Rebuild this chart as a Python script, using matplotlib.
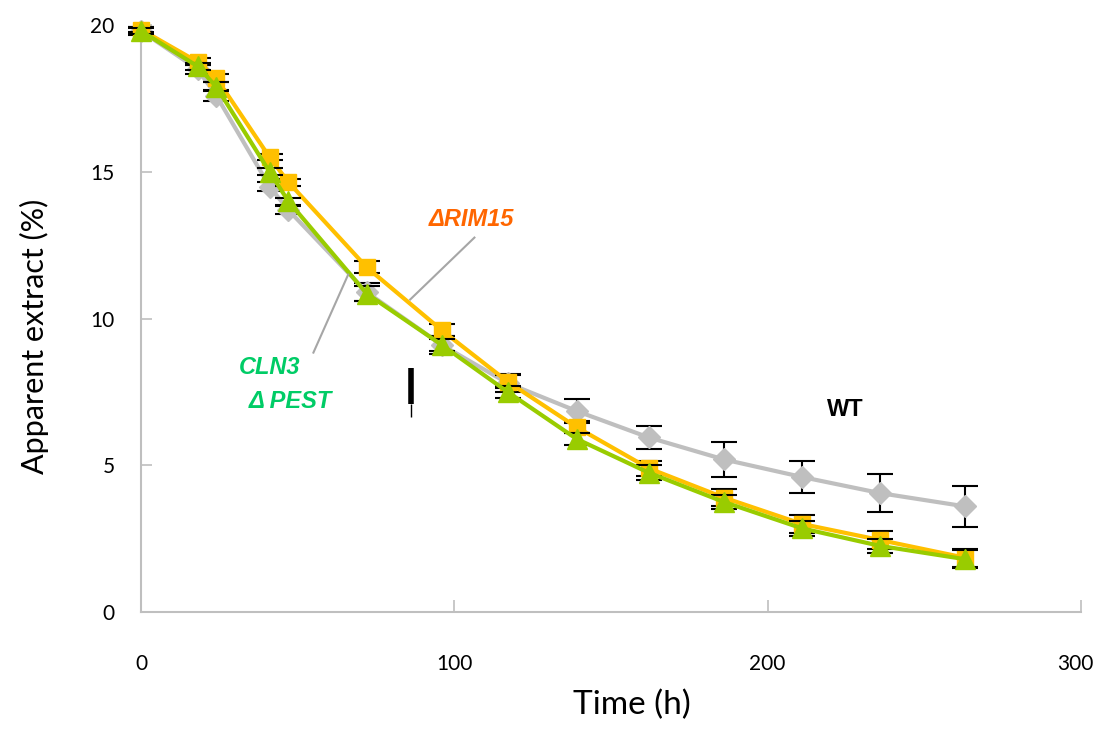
import matplotlib.pyplot as plt
import matplotlib.transforms as mtransforms
import numpy as np

# sampling times (h)
time_h = [0, 18, 24, 41, 47, 72, 96, 117, 139, 162, 186, 211, 236, 263]

# apparent extract (%)
wt = [19.8, 18.5, 17.6, 14.5, 13.7, 10.9, 9.1, 7.8, 6.85, 5.95, 5.2, 4.6, 4.05, 3.6]
wt_err = [0.12, 0.15, 0.2, 0.15, 0.15, 0.3, 0.3, 0.3, 0.4, 0.4, 0.6, 0.55, 0.65, 0.7]

rim15 = [19.85, 18.75, 18.2, 15.5, 14.65, 11.75, 9.6, 7.85, 6.3, 4.9, 3.9, 3.0, 2.45, 1.85]
rim15_err = [0.1, 0.12, 0.15, 0.1, 0.12, 0.2, 0.2, 0.22, 0.2, 0.25, 0.3, 0.3, 0.3, 0.3]

cln3 = [19.8, 18.6, 17.9, 15.0, 14.0, 10.85, 9.1, 7.5, 5.9, 4.75, 3.75, 2.85, 2.25, 1.8]
cln3_err = [0.1, 0.12, 0.15, 0.12, 0.12, 0.25, 0.2, 0.2, 0.2, 0.25, 0.25, 0.25, 0.25, 0.3]

x_ticks = [0, 100, 200, 300]
y_ticks = [0, 5, 10, 15, 20]

fig = plt.figure(figsize=(10.94, 7.29), dpi=100)
ax = fig.add_axes([0.129, 0.1605, 0.859, 0.805])

err_kw = dict(ecolor='black', elinewidth=1.5, capsize=9.5, capthick=1.5, clip_on=False)

ax.errorbar(time_h, wt, yerr=wt_err, color='#BFBFBF', lw=3, marker='D', ms=11,
            mec='#BFBFBF', zorder=3, **err_kw)
ax.errorbar(time_h, rim15, yerr=rim15_err, color='#FFC000', lw=3, marker='s', ms=11,
            mec='#FFC000', zorder=4, **err_kw)
ax.errorbar(time_h, cln3, yerr=cln3_err, color='#99CC00', lw=3, marker='^', ms=14,
            mec='#99CC00', zorder=5, **err_kw)

# labels on the curves
lab = dict(fontfamily='Liberation Sans', fontweight='bold', fontstyle='italic',
           fontsize=17, ha='center', va='center')
ax.text(105.3, 13.38, '\u0394RIM15', color='#FF6600', **lab)
ax.text(40.9, 8.33, 'CLN3', color='#00CC66', **lab)
ax.text(47.6, 7.17, '\u0394 PEST', color='#00CC66', **lab)
ax.text(224.9, 6.89, 'WT', color='black', fontfamily='Liberation Sans',
        fontweight='bold', fontsize=17, ha='center', va='center')
ax.plot([106.4, 85.9], [12.76, 10.65], color='#A6A6A6', lw=1.5, zorder=6)
ax.plot([55, 66.1], [8.84, 11.5], color='#A6A6A6', lw=1.5, zorder=6)

# stray mark in the original figure
ax.plot([86.3, 86.3], [8.33, 7.1], color='black', lw=4, solid_capstyle='butt')
ax.plot([86.0, 86.0], [7.1, 6.65], color='black', lw=1, solid_capstyle='butt')

ax.set_xlim(0, 300)
ax.set_ylim(0, 20)
ax.set_xticks(x_ticks)
ax.set_yticks(y_ticks)

for s in ['top', 'right']:
    ax.spines[s].set_visible(False)
for s in ['left', 'bottom']:
    ax.spines[s].set_color('#BFBFBF')
    ax.spines[s].set_linewidth(1.5)

ax.tick_params(axis='x', direction='in', length=9, width=1.2, color='#BFBFBF',
               pad=30, labelsize=15)
ax.tick_params(axis='y', direction='in', length=8, width=1.2, color='#BFBFBF',
               pad=19, labelsize=15)
for t in ax.get_xticklabels() + ax.get_yticklabels():
    t.set_fontfamily('Lato')

# last x label sits a little left of its tick, as in the original
last = ax.get_xticklabels()[-1]
last.set_transform(last.get_transform() +
                   mtransforms.ScaledTranslation(-4 / 72, 0, fig.dpi_scale_trans))

ax.set_xlabel('Time (h)', fontfamily='Lato', fontsize=24)
ax.set_ylabel('Apparent extract (%)', fontfamily='Lato', fontsize=22)
ax.xaxis.set_label_coords(0.522, -0.132)
ax.yaxis.set_label_coords(-0.098, 0.47)

fig.savefig('out.png', dpi=100)
